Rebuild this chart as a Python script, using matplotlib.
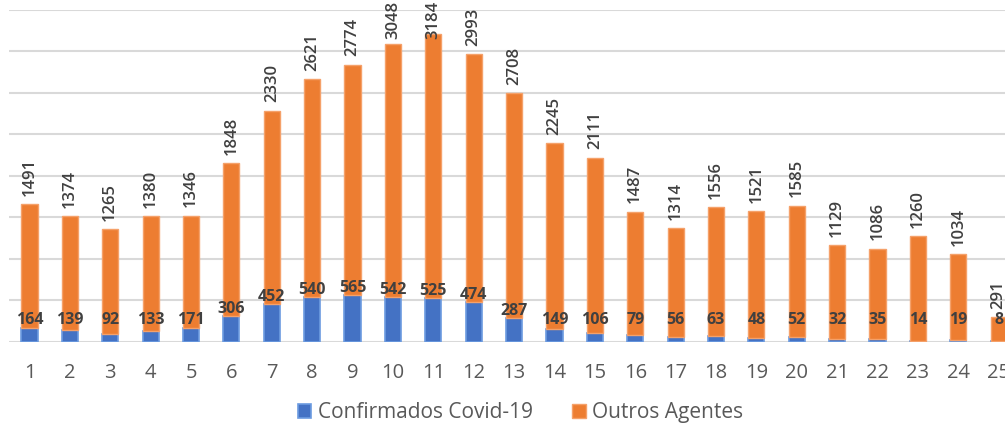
import matplotlib
matplotlib.use("Agg")
import matplotlib.pyplot as plt
import numpy as np

categories = [str(i) for i in range(1, 26)]
confirmados = [164, 139, 92, 133, 171, 306, 452, 540, 565, 542, 525, 474, 287,
               149, 106, 79, 56, 63, 48, 52, 32, 35, 14, 19, 8]
outros = [1491, 1374, 1265, 1380, 1346, 1848, 2330, 2621, 2774, 3048, 3184, 2993,
          2708, 2245, 2111, 1487, 1314, 1556, 1521, 1585, 1129, 1086, 1260, 1034, 291]

plt.rcParams['font.family'] = ['Open Sans', 'DejaVu Sans']

W, H = 1005, 426
fig = plt.figure(figsize=(W / 100, H / 100), dpi=100)
left_px, right_px = 9.3, 1018.9
base_px, top_px = 341.7, 9.7
ax = fig.add_axes([left_px / W, (H - base_px) / H, (right_px - left_px) / W,
                   (base_px - top_px) / H])

x = np.arange(len(categories))
blue = '#4472C4'
orange = '#ED7D31'
bw = 0.4
ax.bar(x, confirmados, bw, color=blue, edgecolor='#6C9BE0', linewidth=1.2,
       label='Confirmados Covid-19', zorder=3)
ax.bar(x, outros, bw, bottom=confirmados, color=orange, edgecolor='#F5A16A',
       linewidth=1.0, label='Outros Agentes', zorder=3)

ax.set_xlim(-0.5, len(categories) - 0.5)
ax.set_ylim(0, 4000)
ax.set_yticks(np.arange(0, 4001, 500))
ax.yaxis.grid(True, color='#D9D9D9', linewidth=1.5, zorder=0)
ax.tick_params(axis='y', left=False, labelleft=False)
ax.tick_params(axis='x', bottom=False, labelsize=14.5, labelcolor='#595959', pad=12)
ax.set_xticks(x)
ax.set_xticklabels(categories)
for s in ['top', 'right', 'left', 'bottom']:
    ax.spines[s].set_visible(False)

txt = '#404040'
orange_labels = []
for xi, c, o in zip(x, confirmados, outros):
    ypos = max(c + 85, 265)
    ax.text(xi, ypos, str(c), ha='center', va='center', fontsize=11.5,
            fontweight='bold', color=txt, zorder=5)
    t = ax.annotate(str(o), (xi, c + o), xytext=(0, 6), textcoords='offset points',
                    rotation=90, ha='center', va='bottom', fontsize=12,
                    fontweight='semibold', color=txt,
                    annotation_clip=False, zorder=5)
    orange_labels.append(t)

handles, labels = ax.get_legend_handles_labels()
leg = fig.legend(handles, labels, loc='center', bbox_to_anchor=(0.518, 0.031),
                 ncol=2, frameon=False, fontsize=15, handlelength=0.65,
                 handleheight=0.65, handletextpad=0.3, columnspacing=1.9)
for t in leg.get_texts():
    t.set_color('#595959')

# keep rotated labels inside the figure (shift down if they overflow the top)
fig.canvas.draw()
r = fig.canvas.get_renderer()
for t in orange_labels:
    bb = t.get_window_extent(r)
    over = bb.y1 - (H - 0.5)
    if over > 0:
        dx, dy = t.xyann
        t.xyann = (dx, dy - over * 72 / 100)

fig.savefig('out.png', dpi=100)
